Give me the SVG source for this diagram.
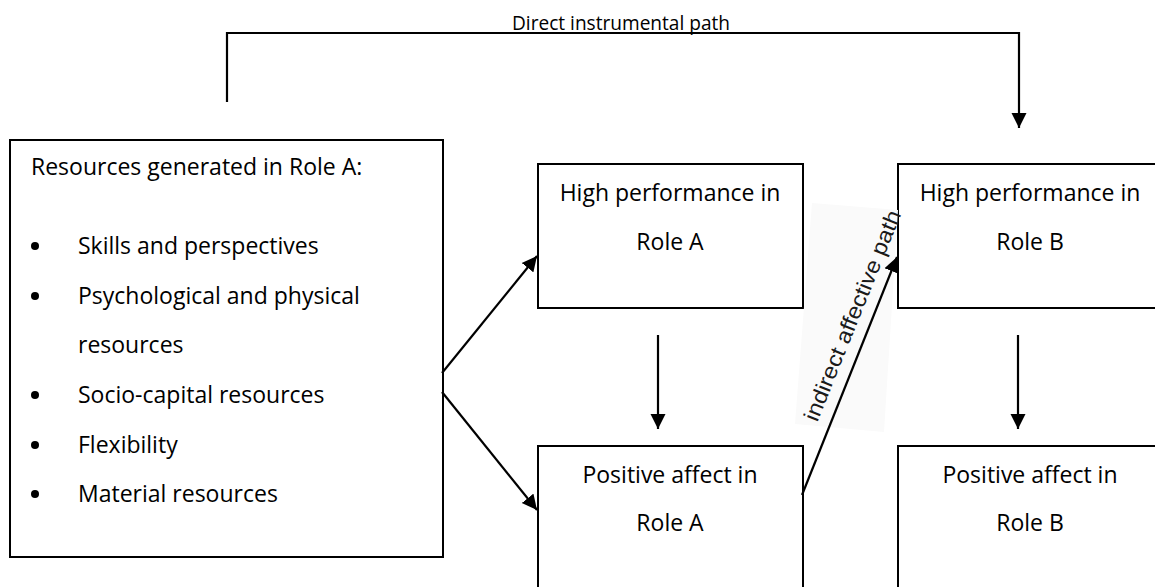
<svg xmlns="http://www.w3.org/2000/svg" width="1155" height="587" viewBox="0 0 1155 587">
<style>
.box{fill:#fff;stroke:#000;stroke-width:2}
.t{font-family:"Open Sans","Liberation Sans",sans-serif;font-size:23px;fill:#000}
.c{text-anchor:middle}
.ln{fill:none;stroke:#000;stroke-width:2.2}
</style>
<defs>
<marker id="ah" markerUnits="userSpaceOnUse" markerWidth="16" markerHeight="16" viewBox="0 0 16 16" refX="15" refY="8" orient="auto">
<path d="M0,0.5 L15,8 L0,15.5 Z" fill="#000"/>
</marker>
</defs>
<rect width="1155" height="587" fill="#fff"/>
<g id="left-box">
<rect class="box" x="10" y="140" width="433" height="417"/>
<text class="t" x="31" y="175">Resources generated in Role A:</text>
<g fill="#000"><circle cx="35" cy="246" r="4"/><circle cx="35" cy="296" r="4"/><circle cx="35" cy="395" r="4"/><circle cx="35" cy="445" r="4"/><circle cx="35" cy="494" r="4"/></g>
<text class="t" x="78" y="254">Skills and perspectives</text>
<text class="t" x="78" y="304">Psychological and physical</text>
<text class="t" x="78" y="353">resources</text>
<text class="t" x="78" y="403">Socio-capital resources</text>
<text class="t" x="78" y="453">Flexibility</text>
<text class="t" x="78" y="502">Material resources</text>
</g>
<g id="high-a">
<rect class="box" x="538" y="164" width="265" height="144"/>
<text class="t c" x="670" y="201">High performance in</text>
<text class="t c" x="670" y="250">Role A</text>
</g>
<g id="pos-a">
<rect class="box" x="538" y="446" width="265" height="160"/>
<text class="t c" x="670" y="483">Positive affect in</text>
<text class="t c" x="670" y="531">Role A</text>
</g>
<g id="high-b">
<rect class="box" x="898" y="164" width="270" height="144"/>
<text class="t c" x="1030" y="201">High performance in</text>
<text class="t c" x="1030" y="250">Role B</text>
</g>
<g id="pos-b">
<rect class="box" x="898" y="446" width="270" height="160"/>
<text class="t c" x="1030" y="483">Positive affect in</text>
<text class="t c" x="1030" y="531">Role B</text>
</g>
<g id="connectors">
<polyline class="ln" points="227,102 227,33 1019,33 1019,128" marker-end="url(#ah)"/>
<text x="621" y="30" text-anchor="middle" font-family="Open Sans, Liberation Sans, sans-serif" font-size="20" textLength="218" lengthAdjust="spacingAndGlyphs">Direct instrumental path</text>
<line class="ln" x1="442" y1="373" x2="537" y2="256" marker-end="url(#ah)"/>
<line class="ln" x1="442" y1="392" x2="537" y2="510" marker-end="url(#ah)"/>
<line class="ln" x1="658" y1="335" x2="658" y2="429" marker-end="url(#ah)"/>
<line class="ln" x1="1018" y1="335" x2="1018" y2="429" marker-end="url(#ah)"/>
<polygon points="812,203 898,210 884,432 795,424" fill="#fafafa"/>
<line class="ln" x1="802" y1="495" x2="897" y2="257" marker-end="url(#ah)"/>
<text transform="translate(851,315) rotate(-68)" x="0" y="9" text-anchor="middle" font-family="Liberation Sans, Arial, sans-serif" font-size="22" fill="#1a1a1a" textLength="225" lengthAdjust="spacingAndGlyphs">indirect affective path</text>
</g>
</svg>
